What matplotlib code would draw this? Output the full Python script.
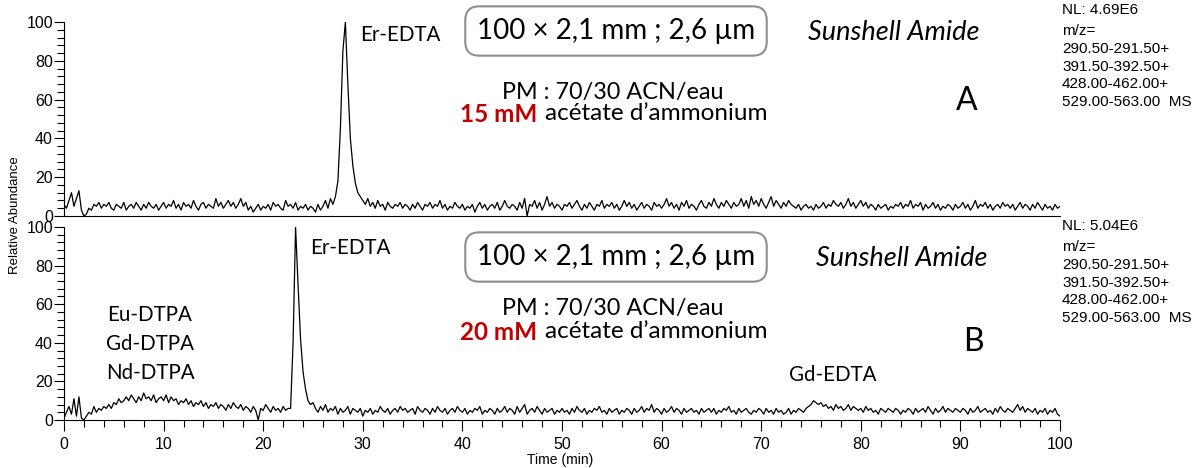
import numpy as np
import matplotlib
matplotlib.use('Agg')
from matplotlib import pyplot as plt
from matplotlib.ticker import MultipleLocator

# temps (min), pas de 0.25 min
t = np.arange(0, 100.01, 0.25)

# trace A : 15 mM acetate d'ammonium (abondance relative, %)
trace_a = [
    6, 4, 8, 12, 5, 9, 13, 3, 0, 1, 4, 3, 6, 5, 7, 4, 6, 5, 7, 4,
    3, 6, 5, 4, 7, 3, 5, 6, 4, 7, 5, 3, 6, 4, 7, 5, 4, 6, 3, 5,
    7, 4, 6, 5, 8, 4, 6, 3, 7, 5, 6, 4, 8, 5, 3, 6, 7, 4, 6, 5,
    4, 9, 5, 7, 4, 6, 8, 5, 7, 4, 6, 9, 5, 7, 3, 5, 2, 4, 6, 3,
    5, 4, 6, 3, 7, 5, 6, 4, 3, 8, 5, 6, 4, 7, 3, 5, 4, 6, 3, 5,
    4, 2, 6, 3, 5, 8, 4, 9, 6, 10, 18, 45, 85, 100, 68, 40, 26, 17, 12, 10,
    8, 6, 9, 5, 7, 4, 8, 5, 6, 3, 7, 5, 4, 6, 5, 7, 4, 6, 5, 3,
    6, 4, 7, 5, 3, 6, 5, 7, 4, 6, 5, 8, 4, 6, 3, 5, 4, 7, 5, 4,
    6, 3, 5, 4, 6, 2, 5, 7, 4, 6, 3, 5, 6, 4, 7, 3, 5, 8, 5, 4,
    6, 5, 3, 7, 4, 9, 0, 6, 5, 8, 4, 7, 3, 6, 10, 5, 7, 4, 6, 5,
    3, 6, 5, 7, 4, 6, 8, 5, 3, 6, 4, 7, 5, 3, 6, 5, 8, 4, 6, 5,
    7, 4, 6, 3, 5, 8, 5, 7, 4, 6, 3, 5, 7, 4, 6, 5, 3, 7, 5, 6,
    4, 6, 9, 5, 7, 4, 6, 3, 7, 5, 8, 4, 6, 5, 3, 6, 8, 5, 4, 7,
    5, 9, 6, 4, 7, 5, 8, 6, 4, 7, 5, 6, 9, 5, 8, 4, 10, 6, 8, 5,
    9, 6, 4, 7, 10, 5, 8, 6, 4, 7, 5, 8, 6, 5, 4, 6, 3, 5, 6, 4,
    5, 3, 6, 4, 5, 7, 4, 6, 5, 8, 6, 5, 7, 4, 6, 9, 5, 7, 4, 6,
    8, 5, 7, 4, 6, 5, 3, 6, 4, 5, 6, 3, 5, 4, 6, 5, 7, 4, 6, 5,
    8, 4, 6, 5, 7, 3, 6, 4, 5, 7, 4, 6, 3, 5, 4, 6, 5, 3, 6, 4,
    5, 7, 4, 6, 3, 5, 8, 4, 6, 5, 7, 4, 6, 3, 5, 6, 4, 7, 5, 6,
    4, 6, 3, 5, 7, 4, 6, 5, 3, 6, 4, 7, 5, 3, 6, 4, 5, 3, 6, 4,
    5]

# trace B : 20 mM acetate d'ammonium
trace_b = [
    1, 4, 7, 3, 11, 2, 12, 1, 0, 2, 4, 3, 7, 4, 6, 5, 7, 6, 8, 6,
    9, 8, 11, 9, 10, 12, 10, 13, 11, 9, 12, 10, 14, 11, 12, 10, 13, 9, 11, 12,
    10, 13, 9, 12, 10, 11, 8, 10, 9, 11, 8, 10, 7, 9, 8, 10, 7, 9, 6, 8,
    7, 9, 6, 8, 7, 5, 8, 6, 9, 7, 6, 8, 5, 7, 6, 4, 7, 5, 0, 6,
    5, 8, 6, 4, 7, 5, 6, 4, 7, 5, 6, 6, 40, 100, 70, 42, 25, 16, 10, 8,
    9, 6, 4, 7, 5, 8, 4, 6, 5, 7, 3, 6, 4, 5, 7, 3, 6, 5, 4, 6,
    2, 5, 4, 6, 3, 5, 4, 7, 5, 4, 6, 3, 5, 6, 4, 7, 5, 6, 4, 5,
    6, 3, 7, 5, 4, 6, 5, 3, 6, 4, 7, 5, 4, 6, 3, 5, 6, 4, 7, 5,
    4, 6, 3, 5, 4, 6, 5, 7, 3, 5, 4, 6, 5, 3, 6, 4, 5, 7, 4, 6,
    5, 3, 7, 4, 6, 8, 3, 5, 6, 4, 7, 5, 3, 6, 4, 5, 6, 3, 5, 4,
    6, 4, 5, 3, 6, 4, 7, 5, 4, 6, 3, 5, 4, 6, 5, 7, 4, 5, 3, 6,
    4, 5, 6, 3, 5, 4, 6, 5, 3, 6, 4, 5, 7, 4, 6, 5, 8, 4, 6, 5,
    3, 6, 4, 5, 7, 4, 6, 5, 3, 6, 4, 5, 6, 4, 5, 3, 6, 4, 5, 6,
    4, 6, 3, 5, 4, 6, 5, 7, 4, 5, 3, 6, 4, 5, 6, 4, 3, 5, 4, 6,
    5, 3, 6, 4, 5, 3, 6, 4, 5, 3, 4, 6, 3, 5, 4, 6, 5, 4, 6, 7,
    8, 10, 9, 8, 9, 7, 8, 6, 7, 5, 8, 6, 7, 5, 6, 8, 5, 7, 6, 5,
    6, 4, 7, 5, 6, 4, 5, 3, 6, 5, 4, 6, 5, 4, 6, 5, 3, 5, 4, 6,
    5, 3, 6, 4, 5, 6, 4, 7, 5, 3, 6, 4, 5, 7, 4, 6, 5, 4, 6, 5,
    4, 6, 5, 3, 6, 4, 5, 7, 4, 5, 6, 4, 5, 3, 6, 4, 7, 5, 4, 6,
    5, 4, 6, 8, 5, 7, 4, 6, 5, 4, 6, 3, 5, 4, 6, 3, 5, 4, 6, 3,
    2]

x_ticks = [0, 10, 20, 30, 40, 50, 60, 70, 80, 90, 100]
y_ticks = [0, 20, 40, 60, 80, 100]
nl_a = 'NL: 4.69E6'
nl_b = 'NL: 5.04E6'
mz_lines = ['m/z=', '290.50-291.50+', '391.50-392.50+', '428.00-462.00+', '529.00-563.00  MS']

W, H = 1197, 468
fig = plt.figure(figsize=(W / 100, H / 100), dpi=100)

def fx(px):
    return px / W

def fy(py):
    return 1 - py / H

arial = 'Liberation Sans'
cal = 'Lato'

ax1 = fig.add_axes([fx(64), fy(216), fx(1060) - fx(64), fy(22) - fy(216)])
ax2 = fig.add_axes([fx(64), fy(420), fx(1060) - fx(64), fy(227) - fy(420)])

for ax, y in [(ax1, trace_a), (ax2, trace_b)]:
    ax.plot(t, y, color='black', lw=0.9)
    ax.set_xlim(0, 100)
    ax.set_ylim(0, 100)
    ax.spines['top'].set_visible(False)
    ax.spines['right'].set_visible(False)
    ax.spines['left'].set_linewidth(0.8)
    ax.spines['bottom'].set_linewidth(0.8)
    ax.set_yticks(y_ticks)
    ax.yaxis.set_minor_locator(MultipleLocator(4))
    ax.tick_params(axis='y', which='major', length=7, width=0.8, labelsize=11.5, pad=1)
    ax.tick_params(axis='y', which='minor', length=5, width=0.8)
    for lab in ax.get_yticklabels():
        lab.set_fontfamily(arial)
    ax.patch.set_alpha(0)

ax1.set_xticks([])
ax2.set_xticks(x_ticks)
ax2.xaxis.set_minor_locator(MultipleLocator(2))
ax2.tick_params(axis='x', which='major', length=8, width=0.8, labelsize=11.5, pad=4)
ax2.tick_params(axis='x', which='minor', length=5, width=0.8)
for lab in ax2.get_xticklabels():
    lab.set_fontfamily(arial)

fig.text(fx(15), fy(215), 'Relative Abundance', rotation=90, ha='center', va='center',
         fontsize=9.5, family=arial)
fig.text(fx(560), fy(460), 'Time (min)', ha='center', va='center', fontsize=10, family=arial)

# textes des deux panneaux
panels = [
    (0, '15 mM', 'A', nl_a, 400, 35, 10),
    (1, '20 mM', 'B', nl_b, 350, 248, 226),
]
for k, conc, letter, nl, erx, ery, nly in panels:
    dy = 0 if k == 0 else 226
    fig.text(fx(erx), fy(ery), 'Er-EDTA', ha='center', va='center', fontsize=14.8, family=cal)
    fig.text(fx(616), fy(31 + dy), '100 × 2,1 mm ; 2,6 µm', ha='center', va='center',
             fontsize=20, family=cal,
             bbox=dict(boxstyle='round,pad=0.42,rounding_size=0.5', fc='white', ec='#8f8f8f', lw=1.5))
    fig.text(fx(894 + 8 * k), fy(33 + dy), 'Sunshell Amide', ha='center', va='center',
             fontsize=19.5, family=cal, style='italic')
    fig.text(fx(613), fy(92 + 217 * k), 'PM : 70/30 ACN/eau', ha='center', va='center',
             fontsize=16.8, family=cal)
    fig.text(fx(537), fy(114 + 218 * k), conc, ha='right', va='center', fontsize=17.5,
             family=cal, weight='bold', color='#c00000')
    fig.text(fx(545), fy(114 + 218 * k), 'acétate d’ammonium', ha='left', va='center',
             fontsize=17.5, family=cal)
    fig.text(fx(967 + 6 * k), fy(101 + 241 * k), letter, ha='center', va='center',
             fontsize=23, family=cal)
    fig.text(fx(1062), fy(nly), nl, ha='left', va='center', fontsize=11, family=arial)
    for i, s in enumerate(mz_lines):
        fig.text(fx(1062), fy(nly + 21 + 17.8 * i), s, ha='left', va='center',
                 fontsize=11, family=arial)

for s, yy in [('Eu-DTPA', 315), ('Gd-DTPA', 344), ('Nd-DTPA', 373)]:
    fig.text(fx(150), fy(yy), s, ha='center', va='center', fontsize=14.8, family=cal)
fig.text(fx(833), fy(375), 'Gd-EDTA', ha='center', va='center', fontsize=14.8, family=cal)

fig.savefig('out.png', dpi=100)
